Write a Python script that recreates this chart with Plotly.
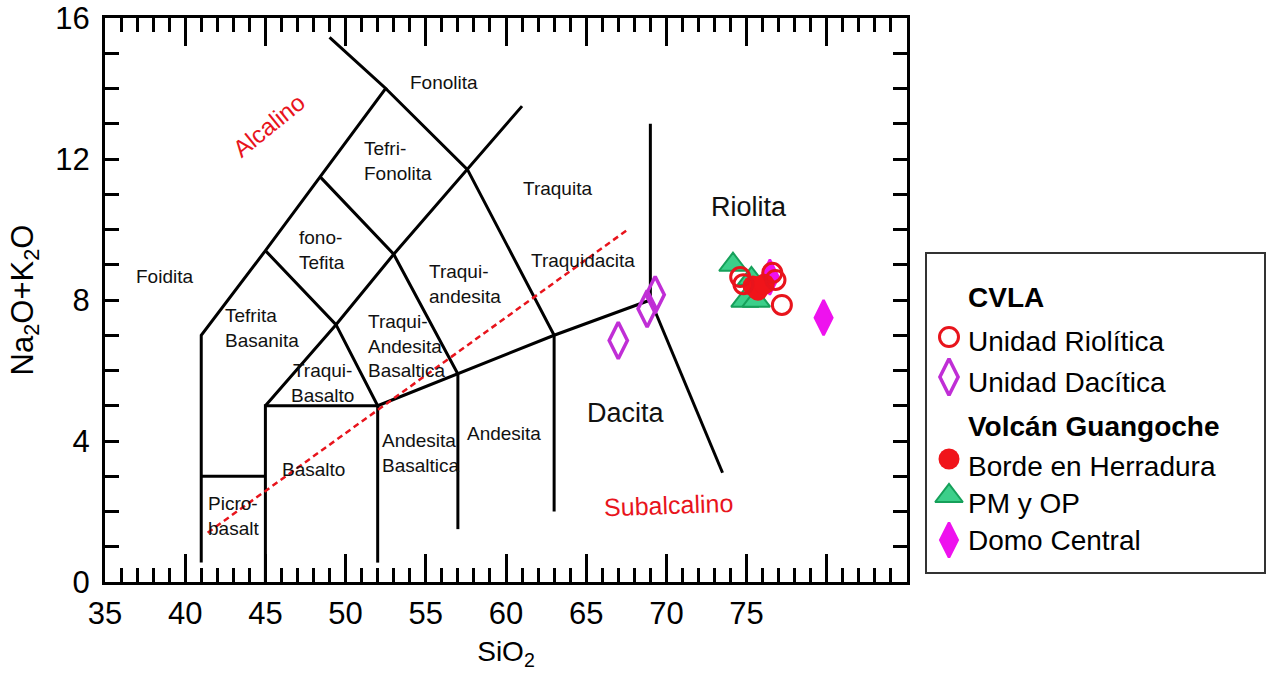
import plotly.graph_objects as go

# ---- sample data (SiO2 wt%, Na2O+K2O wt%) ----
riolitica_x = [74.6, 74.8, 76.6, 76.8, 77.2]
riolitica_y = [8.65, 8.45, 8.77, 8.57, 7.86]

dacitica_x = [67.0, 68.8, 69.3]
dacitica_y = [6.85, 7.75, 8.15]

herradura_x = [75.4, 75.7, 76.1]
herradura_y = [8.40, 8.28, 8.45]

pmop_x = [74.15, 75.3, 74.9, 75.6]
pmop_y = [9.00, 8.60, 7.98, 7.98]

domo_x = [76.45, 79.8]
domo_y = [8.65, 7.50]

# ---- TAS field boundaries (polylines) ----
tas_boundaries = [
    [(41, 0.55), (41, 7), (45, 9.4), (48.4, 11.5), (52.5, 14), (49.0, 15.45)],
    [(52.5, 14), (57.6, 11.7), (63, 7)],
    [(48.4, 11.5), (53, 9.3), (57, 5.9)],
    [(45, 9.4), (49.4, 7.3), (52, 5)],
    [(45, 5), (49.4, 7.3), (53, 9.3), (57.6, 11.7), (61, 13.5)],
    [(41, 3), (45, 3)],
    [(45, 0), (45, 5), (52, 5)],
    [(52, 5), (57, 5.9), (63, 7), (69, 8)],
    [(52, 0.55), (52, 5)],
    [(57, 1.5), (57, 5.9)],
    [(63, 2.0), (63, 7)],
    [(69, 8), (69, 13)],
    [(69, 8), (73.5, 3.1)],
]

# alkaline / subalkaline divide
divide_x = [41.4, 67.6]
divide_y = [1.4, 10.0]

# field names: (text, x, y, size, anchor)
field_labels = [
    ("Fonolita", 56.13, 14.18, 19, "center"),
    ("Tefri-<br>Fonolita", 51.0, 11.95, 19, "left"),
    ("Traquita", 63.24, 11.17, 19, "center"),
    ("Riolita", 75.18, 10.64, 27, "center"),
    ("Foidita", 38.74, 8.68, 19, "center"),
    ("fono-<br>Tefita", 46.95, 9.42, 19, "left"),
    ("Traqui-<br>andesita", 55.07, 8.45, 19, "left"),
    ("Traquidacita", 64.8, 9.13, 19, "center"),
    ("Tefrita<br>Basanita", 42.36, 7.2, 19, "left"),
    ("Traqui-<br>Andesita<br>Basaltica", 51.27, 6.7, 19, "left"),
    ("Traqui-<br>Basalto", 48.53, 5.64, 19, "center"),
    ("Dacita", 67.45, 4.79, 27, "center"),
    ("Andesita", 59.88, 4.2, 19, "center"),
    ("Andesita<br>Basaltica", 52.14, 3.66, 19, "left"),
    ("Basalto", 48.0, 3.2, 19, "center"),
    ("Picro-<br>basalt", 41.3, 1.87, 19, "left"),
]

FONT = "Liberation Sans, Arial, sans-serif"
RED = "#e8141c"
W, H = 1269, 677

styles = {
    "Unidad Riolítica": dict(symbol="circle-open", size=19, color=RED, line=dict(width=3, color=RED)),
    "Unidad Dacítica": dict(symbol="diamond-tall-open", size=26, color="#c02ed6",
                             line=dict(width=3.5, color="#c02ed6")),
    "Borde en Herradura": dict(symbol="circle", size=21, color="#f0141a", line=dict(width=0)),
    "PM y OP": dict(symbol="triangle-up", size=24, color="#3ccf8a", line=dict(width=2, color="#16a05a")),
    "Domo Central": dict(symbol="diamond-tall", size=25, color="#ee12ee",
                         line=dict(width=2.5, color="#ee12ee")),
}

fig = go.Figure()

# field boundaries
bx, by = [], []
for seg in tas_boundaries:
    for px, py in seg:
        bx.append(px)
        by.append(py)
    bx.append(None)
    by.append(None)
fig.add_trace(go.Scatter(x=bx, y=by, mode="lines", line=dict(color="black", width=3),
                         hoverinfo="skip", showlegend=False))

fig.add_trace(go.Scatter(x=divide_x, y=divide_y, mode="lines",
                         line=dict(color=RED, width=2.5, dash="6px,4px"),
                         hoverinfo="skip", showlegend=False))

# samples, in drawing order
plot_order = [
    ("PM y OP", pmop_x, pmop_y),
    ("Unidad Dacítica", dacitica_x, dacitica_y),
    ("Domo Central", domo_x, domo_y),
    ("Borde en Herradura", herradura_x, herradura_y),
    ("Unidad Riolítica", riolitica_x, riolitica_y),
]
for name, xs, ys in plot_order:
    fig.add_trace(go.Scatter(x=xs, y=ys, mode="markers", name=name,
                             marker=styles[name], showlegend=False, cliponaxis=False))

# field names
ann = []
for text, x, y, size, anchor in field_labels:
    ann.append(dict(x=x, y=y, xref="x", yref="y", text=text, showarrow=False,
                    xanchor=anchor, yanchor="middle", align=anchor,
                    font=dict(family=FONT, size=size, color="#111")))
ann.append(dict(x=45.22, y=12.94, xref="x", yref="y", text="Alcalino", showarrow=False,
                textangle=-39, font=dict(family=FONT, size=24, color=RED)))
ann.append(dict(x=70.16, y=2.18, xref="x", yref="y", text="Subalcalino", showarrow=False,
                textangle=-2, font=dict(family=FONT, size=25, color=RED)))

# ---- legend panel (pixel coordinates on an overlay axis) ----
# (kind, label, text row y, key y)
legend_rows = [
    ("title", "CVLA", 297, None),
    ("item", "Unidad Riolítica", 341, 337),
    ("item", "Unidad Dacítica", 382, 377),
    ("title", "Volcán Guangoche", 426, None),
    ("item", "Borde en Herradura", 466, 459),
    ("item", "PM y OP", 503, 496),
    ("item", "Domo Central", 540, 540),
]
text_x, key_x = 966, 949
for kind, label, ty, ky in legend_rows:
    txt = "<b>%s</b>" % label if kind == "title" else label
    ann.append(dict(x=text_x, y=ty, xref="x2", yref="y2", text=txt,
                    showarrow=False, xanchor="left", yanchor="middle",
                    font=dict(family=FONT, size=28, color="black")))
    if kind == "item":
        fig.add_trace(go.Scatter(x=[key_x], y=[ky], mode="markers", marker=styles[label],
                                 xaxis="x2", yaxis="y2", showlegend=False,
                                 hoverinfo="skip", cliponaxis=False))

shapes = [dict(type="rect", xref="x2", yref="y2", x0=926, x1=1265, y0=253, y1=573,
               line=dict(color="#333", width=2))]

tickfont = dict(family=FONT, size=31, color="black")
fig.update_layout(
    width=W, height=H,
    margin=dict(l=0, r=0, t=0, b=0, autoexpand=False),
    paper_bgcolor="white", plot_bgcolor="rgba(0,0,0,0)",
    showlegend=False,
    annotations=ann, shapes=shapes,
    xaxis=dict(domain=[105 / W, 907 / W], range=[35, 85], showgrid=False, zeroline=False,
               automargin=False,
               showline=True, linecolor="black", linewidth=3, mirror="allticks",
               ticks="inside", ticklen=28, tickwidth=2.5, tickcolor="black",
               tickvals=[35, 40, 45, 50, 55, 60, 65, 70, 75, 80],
               ticktext=["35", "40", "45", "50", "55", "60", "65", "70", "75", ""],
               tickfont=tickfont, ticklabelstandoff=2,
               minor=dict(dtick=1, ticks="inside", ticklen=14, tickwidth=2.5, tickcolor="black"),
               title=dict(text="SiO<sub>2</sub>", font=dict(family=FONT, size=28, color="black"),
                          standoff=12),
               anchor="y"),
    yaxis=dict(domain=[(H - 582) / H, (H - 18) / H], range=[0, 16], showgrid=False, zeroline=False,
               automargin=False,
               showline=True, linecolor="black", linewidth=3, mirror="allticks",
               ticks="inside", ticklen=14, tickwidth=2.5, tickcolor="black",
               tickvals=[0, 4, 8, 12, 16], tickfont=tickfont, ticklabelstandoff=6,
               minor=dict(dtick=1, ticks="inside", ticklen=14, tickwidth=2.5, tickcolor="black"),
               title=dict(text="Na<sub>2</sub>O+K<sub>2</sub>O",
                          font=dict(family=FONT, size=31, color="black"), standoff=13),
               anchor="x"),
    xaxis2=dict(domain=[0, 1], range=[0, W], visible=False, anchor="y2", fixedrange=True,
                automargin=False),
    yaxis2=dict(domain=[0, 1], range=[H, 0], visible=False, anchor="x2", fixedrange=True,
                automargin=False),
)

fig.write_html("out.html")
